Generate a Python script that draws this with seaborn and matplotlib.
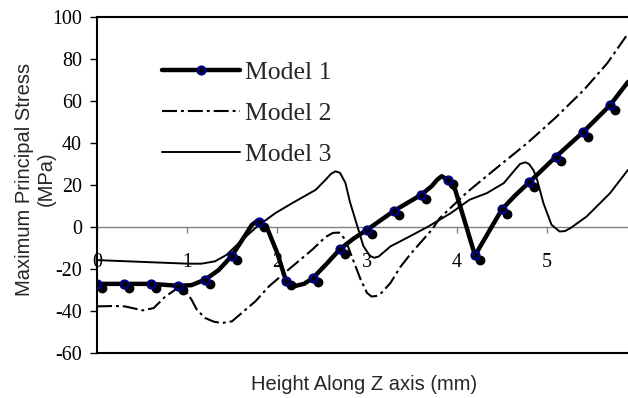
import matplotlib
matplotlib.use("Agg")
import matplotlib.pyplot as plt
import seaborn as sns
from matplotlib.lines import Line2D
from matplotlib.transforms import ScaledTranslation

# ---------------- data ----------------
m1_marker_x = [0.0, 0.3, 0.6, 0.9, 1.2, 1.5, 1.8, 2.1, 2.4, 2.7,
               3.0, 3.3, 3.6, 3.9, 4.2, 4.5, 4.8, 5.1, 5.4, 5.7]
m1_marker_y = [-27.0, -27.0, -27.0, -27.9, -25.0, -13.6, 2.4, -25.5, -24.2, -10.5,
               -1.3, 7.7, 15.3, 22.4, -13.5, 8.5, 21.2, 33.5, 45.1, 57.9]

m1_line_x = [0.0, 0.3, 0.6, 0.9, 1.05, 1.2, 1.35, 1.5, 1.65, 1.72, 1.77, 1.8, 1.9,
             2.0, 2.1, 2.18, 2.3, 2.4, 2.55, 2.7, 2.85, 3.0, 3.3, 3.6, 3.72, 3.78,
             3.83, 3.9, 3.98, 4.07, 4.2, 4.37, 4.5, 4.65, 4.8, 5.1, 5.4, 5.7, 5.9]
m1_line_y = [-27.0, -27.0, -27.0, -27.9, -27.6, -25.0, -20.5, -13.6, -3.7, 1.0,
             2.6, 2.4, -1.5, -12.0, -25.5, -28.2, -27.0, -24.2, -17.5, -10.5, -5.5,
             -1.3, 7.7, 15.3, 19.5, 22.5, 24.2, 22.4, 17.7, 5.0, -13.5, -1.0, 8.5,
             15.2, 21.2, 33.5, 45.1, 57.9, 69.0]

m2_x = [0.0, 0.2, 0.31, 0.51, 0.63, 0.76, 0.88, 1.0, 1.05, 1.11, 1.2, 1.3, 1.39,
        1.5, 1.65, 1.76, 1.91, 2.17, 2.39, 2.54, 2.62, 2.69, 2.76, 2.84, 2.93,
        3.0, 3.05, 3.1, 3.16, 3.26, 3.37, 3.48, 3.59, 3.72, 3.81, 4.11, 4.46,
        4.78, 5.09, 5.41, 5.67, 5.9]
m2_y = [-37.7, -37.5, -37.7, -39.6, -38.5, -33.0, -29.5, -31.3, -34.5, -39.3,
        -43.2, -45.0, -45.6, -44.8, -39.3, -35.3, -28.2, -18.7, -10.8, -4.7, -2.8,
        -2.6, -6.0, -15.0, -25.0, -31.3, -33.0, -32.8, -31.3, -26.6, -19.0, -13.0,
        -7.6, -1.3, 4.3, 16.5, 28.8, 39.9, 51.8, 65.2, 77.9, 92.0]

m3_x = [0.0, 0.53, 1.01, 1.16, 1.31, 1.44, 1.59, 1.78, 1.98, 2.17, 2.43, 2.54,
        2.6, 2.65, 2.7, 2.76, 2.81, 2.86, 2.91, 2.96, 3.03, 3.08, 3.13, 3.26,
        3.44, 3.67, 3.93, 4.14, 4.33, 4.52, 4.62, 4.7, 4.76, 4.8, 4.85, 4.89,
        4.96, 5.05, 5.14, 5.2, 5.26, 5.44, 5.7, 5.9]
m3_y = [-15.7, -16.6, -17.4, -17.4, -16.3, -13.2, -7.0, 0.3, 6.6, 11.4, 17.7,
        22.5, 25.3, 26.5, 25.8, 21.0, 12.0, 5.0, -2.0, -9.0, -13.6, -14.6, -14.0,
        -9.2, -5.2, 0.0, 6.6, 13.0, 16.1, 20.9, 26.0, 30.0, 30.8, 30.0, 27.0,
        22.5, 11.4, 1.1, -2.1, -1.9, -0.5, 5.0, 16.1, 27.2]

series_labels = ["Model 1", "Model 2", "Model 3"]
x_ticks = [0, 1, 2, 3, 4, 5]
x_tick_labels = ["0", "1", "2", "3", "4", "5"]
y_ticks = [-60, -40, -20, 0, 20, 40, 60, 80, 100]
x_label = "Height Along Z axis (mm)"
y_label = "Maximum Principal Stress\n(MPa)"

# ---------------- style ----------------
sns.set_style("white")
plt.rcParams["font.family"] = ["Liberation Serif", "DejaVu Serif"]
plt.rcParams["axes.unicode_minus"] = False
plt.rcParams["lines.solid_joinstyle"] = "round"
plt.rcParams["lines.dash_joinstyle"] = "round"

W, H = 628, 398
fig = plt.figure(figsize=(W / 100, H / 100), dpi=100)
left_px, right_px, top_px, bot_px = 97, 628, 16.7, 353.3
ax = fig.add_axes([left_px / W, 1 - bot_px / H,
                   (right_px - left_px) / W, (bot_px - top_px) / H])

ymin, ymax = -60, 100
xmin, xmax = 0, 5.9

# ---------------- lines ----------------
sns.lineplot(x=m2_x, y=m2_y, ax=ax, color="black", linewidth=1.5,
             sort=False, estimator=None, zorder=2)
ax.get_lines()[-1].set_dashes((7.2, 1.9, 1.4, 1.9))
sns.lineplot(x=m3_x, y=m3_y, ax=ax, color="black", linewidth=1.4,
             sort=False, estimator=None, zorder=2)
sns.lineplot(x=m1_line_x, y=m1_line_y, ax=ax, color="black", linewidth=3.2,
             sort=False, estimator=None, zorder=3)

# shadow dots of Model 1 markers
sns.scatterplot(x=m1_marker_x, y=m1_marker_y, ax=ax, s=50, color="black",
                linewidth=0, zorder=4)
shadow = ax.collections[-1]
shadow.set_offset_transform(ax.transData +
                            ScaledTranslation(5 / 100, -4.5 / 100, fig.dpi_scale_trans))
# Model 1 markers
sns.scatterplot(x=m1_marker_x, y=m1_marker_y, ax=ax, s=32, color="black",
                edgecolor="#000080", linewidth=1.7, zorder=5)

ax.set_xlim(xmin, xmax)
ax.set_ylim(ymin, ymax)

# ---------------- axes styling ----------------
for side in ["left", "top", "bottom"]:
    ax.spines[side].set_color("black")
    ax.spines[side].set_linewidth(1.5)
ax.spines["right"].set_visible(False)

ax.tick_params(axis="x", bottom=False, labelbottom=False)
ax.set_yticks(y_ticks)
ax.set_yticklabels([str(v) for v in y_ticks])
ax.tick_params(axis="y", direction="out", length=4.8, width=1, pad=6,
               labelsize=14.4, colors="black", left=True)
for t in ax.get_yticklabels():
    t.set_family("Liberation Serif")

# zero line with x ticks
sec = ax.secondary_xaxis((0 - ymin) / (ymax - ymin))
sec.set_xticks(x_ticks)
sec.set_xticklabels(x_tick_labels)
sec.tick_params(axis="x", direction="out", length=4, width=1, color="#808080",
                pad=14.5, labelsize=14.4, labelcolor="black")
sec.spines["bottom"].set_color("#808080")
sec.spines["bottom"].set_linewidth(1.0)
for t in sec.get_xticklabels():
    t.set_family("Liberation Serif")

# axis labels
ax.set_xlabel(x_label, fontsize=14.5, family="Liberation Sans", va="center")
ax.xaxis.set_label_coords((364 - left_px) / (right_px - left_px),
                          (bot_px - 385) / (bot_px - top_px))
ax.set_ylabel(y_label, fontsize=14.5, family="Liberation Sans", va="center",
              linespacing=1.2)
ax.yaxis.set_label_coords((35.5 - left_px) / (right_px - left_px),
                          (bot_px - 179) / (bot_px - top_px))

# legend
h1 = Line2D([], [], color="black", lw=3.2, marker="o", ms=5.6, mfc="black",
            mec="#000080", mew=1.7)
h2 = Line2D([], [], color="black", lw=1.5, linestyle=(0, (7.2, 1.9, 1.4, 1.9)))
h3 = Line2D([], [], color="black", lw=1.4)
ax.legend([h1, h2, h3], series_labels, loc="upper left",
          bbox_to_anchor=(161.7 / W, 1 - 60.7 / H), bbox_transform=fig.transFigure,
          frameon=False, prop={"family": "Liberation Serif", "size": 18.5},
          handlelength=3.05, handletextpad=0.2, labelspacing=0.71,
          borderpad=0, borderaxespad=0, numpoints=1)

fig.savefig("out.png", dpi=100)
